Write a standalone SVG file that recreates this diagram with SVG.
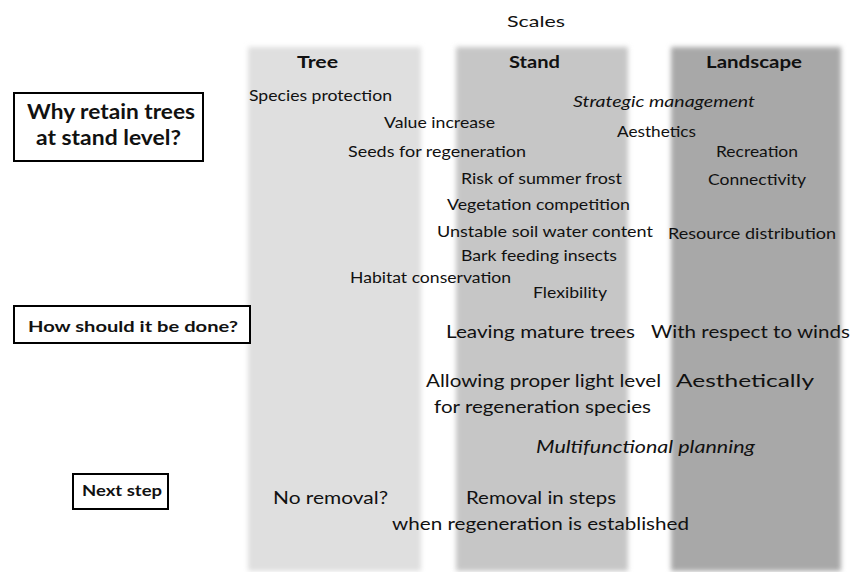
<svg xmlns="http://www.w3.org/2000/svg" width="851" height="572" viewBox="0 0 851 572">
<defs>
<style>
text{font-family:Lato,"Liberation Sans",sans-serif;fill:#111;}
.s{font-size:15px;}
.l{font-size:18px;}
.i{font-style:italic;}
.h{font-size:17px;font-weight:bold;}
.b{font-weight:bold;}
.box{fill:#fff;stroke:#000;stroke-width:2;}
</style>
<filter id="soft" x="-10%" y="-5%" width="120%" height="110%"><feGaussianBlur stdDeviation="2.5"/></filter>
</defs>
<rect width="851" height="572" fill="#fff"/>
<g id="bands" filter="url(#soft)">
<rect id="band-tree" x="248" y="47" width="173" height="524" fill="#dfdfdf"/>
<rect id="band-stand" x="456" y="47" width="172" height="524" fill="#c6c6c6"/>
<rect id="band-landscape" x="671" y="47" width="170" height="524" fill="#a8a8a8"/>
</g>
<g id="headers">
<text x="507" y="27" font-size="16" textLength="58" lengthAdjust="spacingAndGlyphs">Scales</text>
<text class="h" x="297" y="68" textLength="41" lengthAdjust="spacingAndGlyphs">Tree</text>
<text class="h" x="509" y="68" textLength="51" lengthAdjust="spacingAndGlyphs">Stand</text>
<text class="h" x="706" y="68" textLength="96" lengthAdjust="spacingAndGlyphs">Landscape</text>
</g>
<g id="q-why">
<rect class="box" x="14" y="93" width="189" height="68"/>
<text class="b" x="27" y="119" font-size="20" textLength="168" lengthAdjust="spacingAndGlyphs">Why retain trees</text>
<text class="b" x="36" y="145" font-size="20" textLength="145" lengthAdjust="spacingAndGlyphs">at stand level?</text>
</g>
<g id="q-how">
<rect class="box" x="14" y="306" width="236" height="37"/>
<text class="b" x="28" y="332" font-size="16" textLength="210" lengthAdjust="spacingAndGlyphs">How should it be done?</text>
</g>
<g id="q-next">
<rect class="box" x="73" y="474" width="95" height="35"/>
<text class="b" x="82" y="496" font-size="15" textLength="80" lengthAdjust="spacingAndGlyphs">Next step</text>
</g>
<g id="reasons">
<text class="s" x="249" y="101" textLength="143" lengthAdjust="spacingAndGlyphs">Species protection</text>
<text class="s i" x="573" y="107" textLength="182" lengthAdjust="spacingAndGlyphs">Strategic management</text>
<text class="s" x="384" y="128" textLength="111" lengthAdjust="spacingAndGlyphs">Value increase</text>
<text class="s" x="617" y="137" textLength="79" lengthAdjust="spacingAndGlyphs">Aesthetics</text>
<text class="s" x="348" y="157" textLength="178" lengthAdjust="spacingAndGlyphs">Seeds for regeneration</text>
<text class="s" x="716" y="157" textLength="82" lengthAdjust="spacingAndGlyphs">Recreation</text>
<text class="s" x="461" y="184" textLength="161" lengthAdjust="spacingAndGlyphs">Risk of summer frost</text>
<text class="s" x="708" y="185" textLength="98" lengthAdjust="spacingAndGlyphs">Connectivity</text>
<text class="s" x="447" y="210" textLength="183" lengthAdjust="spacingAndGlyphs">Vegetation competition</text>
<text class="s" x="437" y="237" textLength="216" lengthAdjust="spacingAndGlyphs">Unstable soil water content</text>
<text class="s" x="668" y="239" textLength="168" lengthAdjust="spacingAndGlyphs">Resource distribution</text>
<text class="s" x="461" y="261" textLength="156" lengthAdjust="spacingAndGlyphs">Bark feeding insects</text>
<text class="s" x="350" y="283" textLength="161" lengthAdjust="spacingAndGlyphs">Habitat conservation</text>
<text class="s" x="533" y="298" textLength="74" lengthAdjust="spacingAndGlyphs">Flexibility</text>
</g>
<g id="methods">
<text class="l" x="446" y="338" textLength="189" lengthAdjust="spacingAndGlyphs">Leaving mature trees</text>
<text class="l" x="651" y="338" textLength="199" lengthAdjust="spacingAndGlyphs">With respect to winds</text>
<text class="l" x="426" y="387" textLength="235" lengthAdjust="spacingAndGlyphs">Allowing proper light level</text>
<text class="l" x="676" y="387" textLength="138" lengthAdjust="spacingAndGlyphs">Aesthetically</text>
<text class="l" x="434" y="413" textLength="217" lengthAdjust="spacingAndGlyphs">for regeneration species</text>
<text class="l i" x="536" y="453" textLength="219" lengthAdjust="spacingAndGlyphs">Multifunctional planning</text>
</g>
<g id="next">
<text class="l" x="273" y="504" textLength="115" lengthAdjust="spacingAndGlyphs">No removal?</text>
<text class="l" x="466" y="504" textLength="150" lengthAdjust="spacingAndGlyphs">Removal in steps</text>
<text class="l" x="392" y="530" textLength="297" lengthAdjust="spacingAndGlyphs">when regeneration is established</text>
</g>
<g id="connectors"></g>
</svg>
